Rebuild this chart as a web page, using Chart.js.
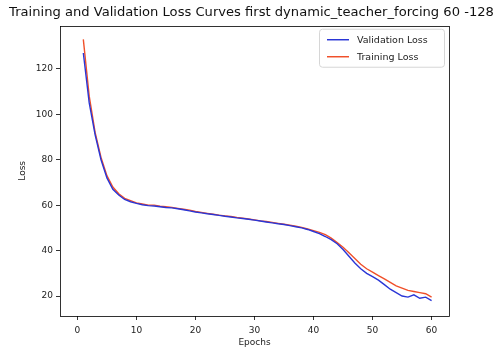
<!DOCTYPE html>
<html>
<head>
<meta charset="utf-8">
<script src="https://cdn.jsdelivr.net/npm/chart.js@4/dist/chart.umd.min.js"></script>
<style>
html,body{margin:0;padding:0;background:#fff;}
#wrap{width:503px;height:351px;position:relative;}
</style>
</head>
<body>
<div id="wrap"><canvas id="c" width="503" height="351"></canvas></div>
<script>
const titleText = "Training and Validation Loss Curves first dynamic_teacher_forcing 60 -128";
const xLabel = "Epochs";
const yLabel = "Loss";
const epochs = [];
for (let e = 1; e <= 60; e++) epochs.push(e);
const validationLoss = [127,105,91,80,72,67,64.5,62.5,61.5,60.8,60.2,59.8,59.6,59.3,59,58.8,58.4,58,57.5,57,
  56.6,56.2,55.9,55.5,55.1,54.8,54.4,54.1,53.8,53.4,53,52.6,52.2,51.8,51.5,51,50.5,50,49.3,48.4,
  47.5,46.2,44.8,43,40.5,37.5,34.5,32,30,28.5,27,25,23,21.5,20,19.5,20.5,19,19.5,18];
const trainingLoss = [133,108,92,81,73,68,65,63,62,61,60.5,60,60,59.5,59.3,59,58.6,58.2,57.8,57.2,
  56.8,56.4,56,55.6,55.3,55,54.6,54.3,53.9,53.5,53.1,52.8,52.4,52,51.6,51.2,50.7,50.2,49.5,48.8,
  48,47,45.5,43.5,41.5,39,36.5,34,32,30.5,29,27.5,26,24.5,23.5,22.5,22,21.5,21,19.5];
const xTicks = [0,10,20,30,40,50,60];
const yTicks = [20,40,60,80,100,120];
const seriesNames = ["Validation Loss", "Training Loss"];
const seriesColors = ["#2a36d6", "#f0502a"];

const FONT = "'DejaVu Sans', sans-serif";

const framePlugin = {
  id: 'frame',
  afterDraw(chart) {
    const {ctx, chartArea: a} = chart;
    ctx.save();
    ctx.strokeStyle = '#000';
    ctx.lineWidth = 0.8;
    ctx.strokeRect(Math.round(a.left)+0.5, Math.round(a.top)+0.5, Math.round(a.right-a.left), Math.round(a.bottom-a.top));
    // legend
    const bx = a.right - 130, by = a.top + 3, bw = 125, bh = 38;
    ctx.fillStyle = 'rgba(255,255,255,0.8)';
    ctx.strokeStyle = '#d6d6d6';
    ctx.lineWidth = 1;
    ctx.beginPath();
    if (ctx.roundRect) ctx.roundRect(bx+0.5, by+0.5, bw, bh, 3); else ctx.rect(bx+0.5, by+0.5, bw, bh);
    ctx.fill(); ctx.stroke();
    ctx.font = "9.5px " + FONT;
    ctx.textBaseline = 'middle';
    for (let i = 0; i < seriesNames.length; i++) {
      const ly = by + 11 + i * 17;
      ctx.strokeStyle = seriesColors[i];
      ctx.lineWidth = 1.5;
      ctx.beginPath(); ctx.moveTo(bx + 8, ly); ctx.lineTo(bx + 30, ly); ctx.stroke();
      ctx.fillStyle = '#222';
      ctx.fillText(seriesNames[i], bx + 38, ly + 0.5);
    }
    ctx.restore();
  }
};

new Chart(document.getElementById('c'), {
  type: 'line',
  data: {
    datasets: [
      {label: seriesNames[0], data: epochs.map((e,i)=>({x:e,y:validationLoss[i]})), borderColor: seriesColors[0], borderWidth: 1.4, pointRadius: 0, tension: 0},
      {label: seriesNames[1], data: epochs.map((e,i)=>({x:e,y:trainingLoss[i]})), borderColor: seriesColors[1], borderWidth: 1.4, pointRadius: 0, tension: 0}
    ]
  },
  options: {
    responsive: false,
    animation: false,
    devicePixelRatio: 1,
    layout: {padding: 0},
    plugins: {
      legend: {display: false},
      tooltip: {enabled: false},
      title: {display: true, text: titleText, color: '#111', font: {family: FONT, size: 13.1, weight: 'normal'}, padding: {top: 5, bottom: 5}}
    },
    scales: {
      x: {
        type: 'linear', min: -2.95, max: 62.95,
        afterBuildTicks: s => { s.ticks = xTicks.map(v => ({value: v})); },
        afterFit: s => { s.height = 35; },
        grid: {display: true, drawOnChartArea: false, tickLength: 4, color: '#000', lineWidth: 0.8},
        border: {display: false},
        ticks: {color: '#222', font: {family: FONT, size: 9}, padding: 5, maxRotation: 0, autoSkip: false},
        title: {display: true, text: xLabel, color: '#222', font: {family: FONT, size: 9}, padding: {top: 2, bottom: 3}}
      },
      y: {
        type: 'linear', min: 11.2, max: 139,
        afterBuildTicks: s => { s.ticks = yTicks.map(v => ({value: v})); },
        afterFit: s => { s.width = 60; },
        grid: {display: true, drawOnChartArea: false, tickLength: 4, color: '#000', lineWidth: 0.8},
        border: {display: false},
        ticks: {color: '#222', font: {family: FONT, size: 9}, padding: 3, autoSkip: false},
        title: {display: true, text: yLabel, color: '#222', font: {family: FONT, size: 9}, padding: {top: 17, bottom: 0}}
      },
      yRight: {
        type: 'linear', position: 'right', display: true, min: 0, max: 1,
        afterFit: s => { s.width = 54; },
        grid: {display: false},
        border: {display: false},
        ticks: {display: false}
      }
    }
  },
  plugins: [framePlugin]
});
</script>
</body>
</html>
